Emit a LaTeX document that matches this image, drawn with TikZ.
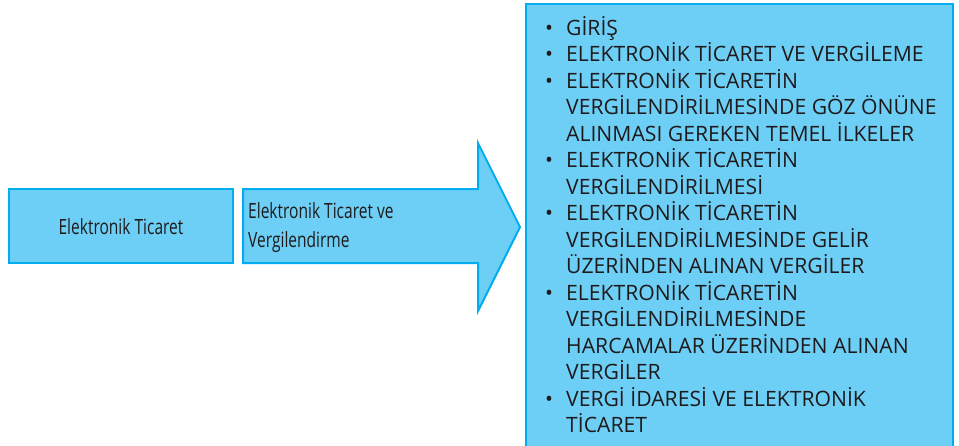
\documentclass[tikz,border=0pt]{standalone}
\usepackage{fontspec}
\setmainfont{Open Sans}
\newfontfamily\listfont{Open Sans}
\newfontfamily\narrowfont[FakeStretch=0.74]{Open Sans}
\definecolor{boxfill}{HTML}{6DCFF6}
\definecolor{boxline}{HTML}{00AEEF}
\definecolor{ink}{HTML}{1E1A1B}
% bullet hung in the left margin of a list line
\newcommand{\bulletitem}{\llap{\makebox[21pt][l]{•}}}
\begin{document}
\begin{tikzpicture}[x=1pt,y=-1pt,
  panel/.style={fill=boxfill,draw=boxline,line width=2.6pt},
  arrowpanel/.style={fill=boxfill,draw=boxline,line width=2pt,line join=miter},
  label/.style={text=ink,font=\narrowfont\fontsize{21}{29}\selectfont,inner sep=0pt}]
\useasboundingbox (0,0) rectangle (959,445);
\clip (0,0) rectangle (959,445);

% left box
\draw[panel] (9,189) rectangle (233,263);
\node[label] (et) at (121,227) {Elektronik Ticaret};

% block arrow
\draw[arrowpanel] (243,189) coordinate (a1) -- (478,189) -- (478,143) -- (520,227) coordinate (tip)
  -- (478,311) -- (478,263) -- (243,263) -- cycle;
\node[label,align=left,anchor=west] (ev) at (248,228)
  {Elektronik Ticaret ve\\Vergilendirme};

% contents box
\draw[panel] (526,4) rectangle (953,470);
\node[text=ink,inner sep=0pt,anchor=base west,align=left,
      font=\listfont\fontsize{21.15}{26.5}\selectfont] (list) at (566,432.5) {%
  \bulletitem GİRİŞ\\
  \bulletitem ELEKTRONİK TİCARET VE VERGİLEME\\
  \bulletitem ELEKTRONİK TİCARETİN\\
  VERGİLENDİRİLMESİNDE GÖZ ÖNÜNE\\
  ALINMASI GEREKEN TEMEL İLKELER\\
  \bulletitem ELEKTRONİK TİCARETİN\\
  VERGİLENDİRİLMESİ\\
  \bulletitem ELEKTRONİK TİCARETİN\\
  VERGİLENDİRİLMESİNDE GELİR\\
  ÜZERİNDEN ALINAN VERGİLER\\
  \bulletitem ELEKTRONİK TİCARETİN\\
  VERGİLENDİRİLMESİNDE\\
  HARCAMALAR ÜZERİNDEN ALINAN\\
  VERGİLER\\
  \bulletitem VERGİ İDARESİ VE ELEKTRONİK\\
  TİCARET};
\end{tikzpicture}
\end{document}
